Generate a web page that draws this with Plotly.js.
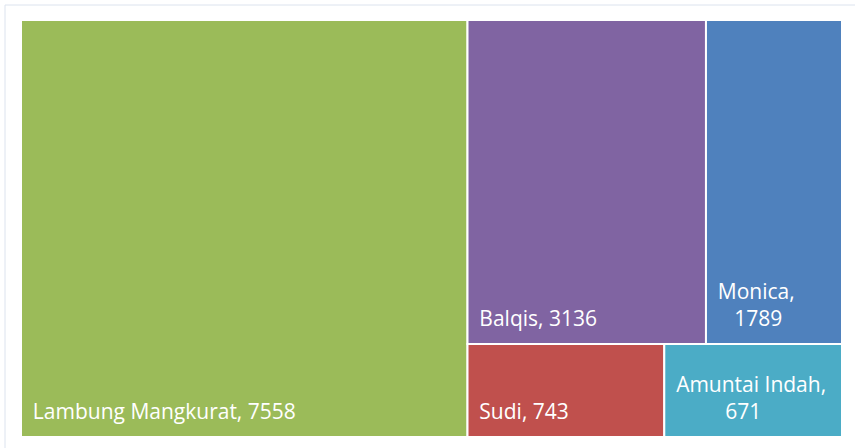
<!DOCTYPE html>
<html>
<head>
<meta charset="utf-8">
<script src="https://cdn.plot.ly/plotly-3.0.1.min.js"></script>
<style>html,body{margin:0;padding:0;background:#fff;}#chart{width:855px;height:448px;}</style>
</head>
<body>
<div id="chart"></div>
<script>
var labels = ["Lambung Mangkurat", "Balqis", "Monica", "Sudi", "Amuntai Indah"];
var values = [7558, 3136, 1789, 743, 671];
var colors = ["#9BBB59", "#8064A2", "#4F81BD", "#C0504D", "#4BACC6"];

// text layout helpers: a left inset and a bottom inset inside each tile
var IN = '<span style="font-size:34px">\u00A0</span>';
var BOT = '<span style="font-size:52px">\u00A0</span>';
var NB = "\u00A0";
var labelTemplates = [
  IN + "%{label}, %{value}" + BOT,
  IN + "%{label}, %{value}" + BOT,
  IN + "%{label},<br>" + IN + NB + NB + NB + "%{value}" + BOT,
  IN + "%{label}, %{value}" + BOT,
  IN + "%{label},<br>" + IN + NB + NB + NB + NB + NB + NB + NB + NB + NB + "%{value}" + BOT
];

var W = 855, H = 448;

var trace = {
  type: "treemap",
  labels: labels,
  parents: labels.map(function(){ return ""; }),
  values: values,
  sort: false,
  texttemplate: labelTemplates,
  textposition: "bottom left",
  textfont: {family: "Open Sans, sans-serif", size: 21, color: "#ffffff"},
  marker: {colors: colors, line: {width: 2, color: "#ffffff"}, pad: {t: 0, l: 0, r: 0, b: 0}},
  tiling: {packing: "squarify", squarifyratio: 1.618, pad: 0},
  pathbar: {visible: false},
  hoverinfo: "label+value",
  domain: {x: [21/W, 842/W], y: [11/H, 428/H]}
};

var layout = {
  width: W, height: H,
  margin: {l: 0, r: 0, t: 0, b: 0},
  paper_bgcolor: "#ffffff",
  showlegend: false,
  shapes: [
    {type: "line", xref: "paper", yref: "paper", x0: 5/W, x1: 1, y0: 1-5/H, y1: 1-5/H, line: {color: "#dce3ee", width: 1}},
    {type: "line", xref: "paper", yref: "paper", x0: 5/W, x1: 5/W, y0: 0, y1: 1-5/H, line: {color: "#dce3ee", width: 1}}
  ]
};

Plotly.newPlot("chart", [trace], layout, {displayModeBar: false, staticPlot: true});
</script>
</body>
</html>
